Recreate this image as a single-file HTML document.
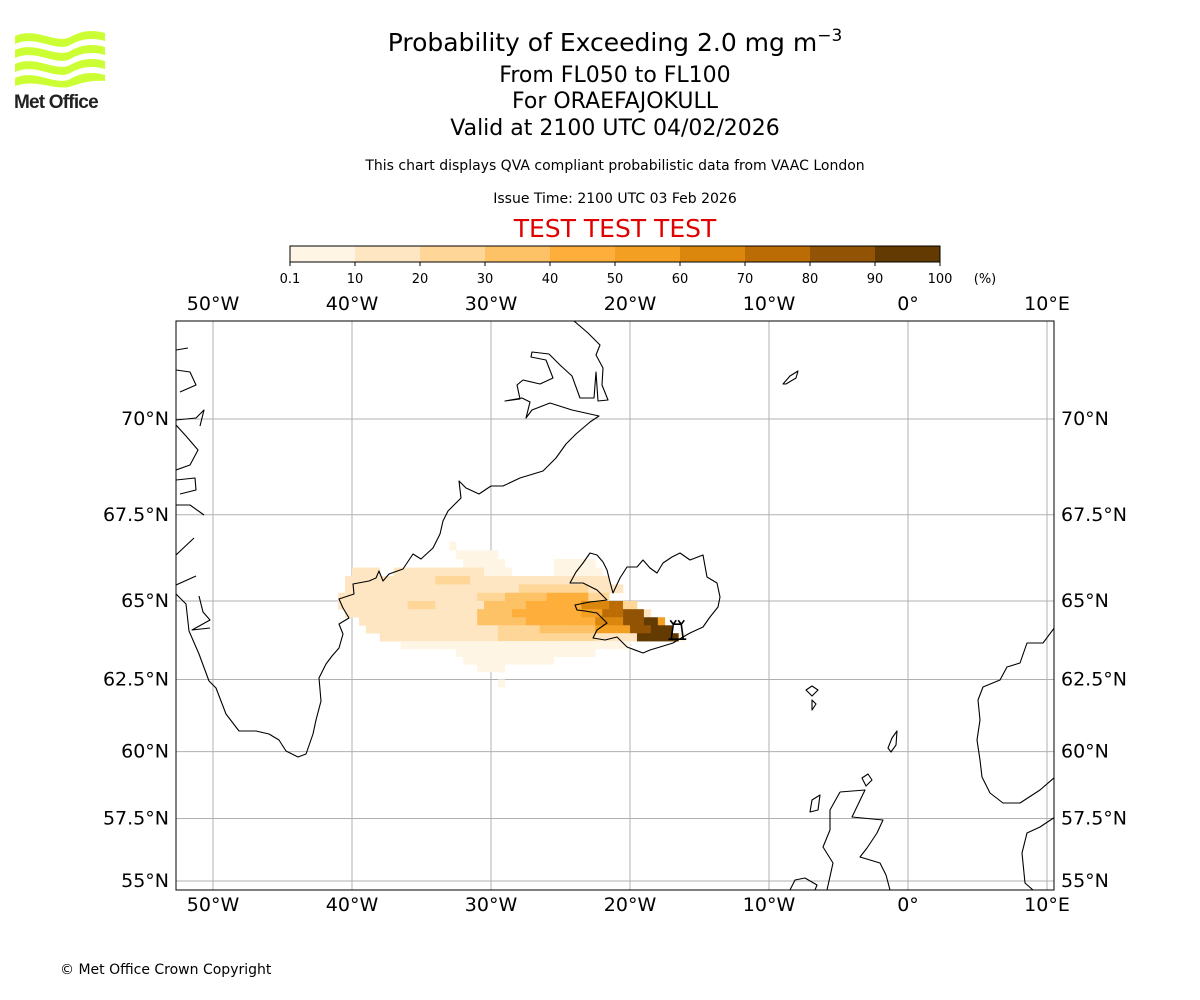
<!DOCTYPE html>
<html><head><meta charset="utf-8">
<style>
body{margin:0;background:#fff;font-family:"DejaVu Sans","Liberation Sans",sans-serif;}
#wrap{position:relative;width:1200px;height:1000px;overflow:hidden;background:#fff;}
.t{position:absolute;left:0;width:1230px;text-align:center;color:#000;white-space:nowrap;}
</style></head><body>
<div id="wrap">
<svg style="position:absolute;left:12px;top:28px" width="100" height="86">
 <g fill="#ccff33">
  <path d="M3 8 C25 -2 45 18 60 8 C72 2 82 2 93 5 L93 13 C82 10 72 10 60 16 C45 26 25 6 3 16Z"/>
  <path d="M3 22 C25 12 45 32 60 22 C72 16 82 16 93 19 L93 27 C82 24 72 24 60 30 C45 40 25 20 3 30Z"/>
  <path d="M3 36 C25 26 45 46 60 36 C72 30 82 30 93 33 L93 41 C82 38 72 38 60 44 C45 54 25 34 3 44Z"/>
  <path d="M3 50 C25 40 45 60 60 50 C72 44 82 44 93 47 L93 53 C82 52 72 54 60 58 C45 64 25 50 3 58Z"/>
 </g>
 <text x="2" y="80" font-family="Liberation Sans" font-weight="bold" font-size="19" fill="#222" letter-spacing="-0.8">Met Office</text>
</svg>
<div class="t" style="top:28px;font-size:25px">Probability of Exceeding 2.0 mg m<sup style="font-size:17px;vertical-align:10px;line-height:0">−3</sup></div>
<div class="t" style="top:63px;font-size:22px">From FL050 to FL100</div>
<div class="t" style="top:89px;font-size:22px">For ORAEFAJOKULL</div>
<div class="t" style="top:116px;font-size:22px">Valid at 2100 UTC 04/02/2026</div>
<div class="t" style="top:158px;font-size:14px">This chart displays QVA compliant probabilistic data from VAAC London</div>
<div class="t" style="top:191px;font-size:14px">Issue Time: 2100 UTC 03 Feb 2026</div>
<div class="t" style="top:214px;font-size:25px;color:#e00000">TEST TEST TEST</div>
<div style="position:absolute;left:60px;top:962px;font-size:14px">© Met Office Crown Copyright</div>
<svg id="svg" width="1200" height="1000" style="position:absolute;left:0;top:0">
 <defs><clipPath id="mc"><rect x="176" y="321" width="878" height="569"/></clipPath></defs>
 <g id="colorbar"></g>
 <g id="grid" clip-path="url(#mc)"></g>
 <g id="plume" clip-path="url(#mc)"></g>
 <g clip-path="url(#mc)" fill="none" stroke="#000" stroke-width="1.1" stroke-linejoin="round">
  <path d="M574 321 L588 333 L600 345 L596 355 L603 368 L602 385 L608 400 L598 401 L596 372 L594 398 L580 398 L572 376 L560 365 L549 354 L532 352 L531 357 L546 360 L553 378 L540 384 L523 380 L517 385 L520 399 L505 401 L522 398 L530 402 L526 418 L532 410 L550 403 L572 410 L599 416 L590 422 L576 434 L566 444 L556 458 L543 471 L520 478 L503 486 L491 486 L479 494 L466 488 L459 481 L461 498 L448 511 L443 521 L440 534 L433 548 L421 559 L413 554 L403 569 L389 574 L383 581 L379 571 L376 578 L369 581 L353 584 L354 594 L339 599 L343 608 L349 618 L339 624 L343 634 L339 648 L332 656 L326 664 L319 678 L321 701 L316 720 L313 734 L306 754 L298 757 L286 751 L279 740 L269 734 L256 731 L239 731 L226 714 L216 688 L209 681 L199 654 L189 631 L186 604 L176 594"/>
  <path d="M176 350 L188 348 M176 370 L190 372 L196 385 L180 392 M176 420 L196 418 L204 410 L200 426 M176 425 L186 436 L198 450 L190 465 L176 470 M176 480 L195 478 L196 490 L180 494 M176 505 L190 505 L204 515 M176 555 L194 538 M176 585 L196 576 M199 596 L203 612 L210 620 L192 630 L210 628"/>
  <path d="M570 583 L576 572 L583 563 L590 553 L597 555 L603 562 L607 570 L610 582 L613 593 L620 578 L627 567 L637 567 L643 560 L650 568 L657 573 L663 563 L672 557 L680 553 L690 560 L703 555 L707 577 L717 583 L720 597 L718 607 L710 617 L703 627 L690 633 L683 637 L673 643 L660 647 L650 650 L643 653 L627 647 L617 637 L605 640 L593 638 L597 630 L607 623 L597 613 L585 611 L577 610 L575 605 L590 602 L607 600 L597 590 L583 583 Z"/>
  <path d="M783 384 L790 376 L798 371 L796 378 L786 384 Z"/>
  <path d="M806 690 L812 686 L818 690 L812 696 Z M812 700 L816 704 L812 710 Z"/>
  <path d="M888 748 L892 738 L897 731 L896 745 L891 752 Z"/>
  <path d="M862 778 L868 774 L872 780 L866 786 Z"/>
  <path d="M840 792 L865 790 L852 817 L883 820 L877 833 L867 848 L860 857 L880 863 L886 875 L890 890 M827 890 L833 863 L823 847 L830 830 L830 810 L840 792 M812 800 L820 795 L818 810 L810 812 Z M790 890 L795 880 L805 878 L817 885 L815 890"/>
  <path d="M1055 627 L1043 643 L1027 643 L1020 663 L1007 667 L1000 680 L983 687 L978 700 L980 720 L977 740 L980 760 L982 777 L990 793 L1003 803 L1020 803 L1040 790 L1055 777 M1055 817 L1040 827 L1027 833 L1022 853 L1025 883 L1033 890"/>
 </g>
 <g id="volcano" fill="none" stroke="#000" stroke-width="1.6"></g>
 <rect x="176" y="321" width="878" height="569" fill="none" stroke="#000" stroke-width="1"/>
 <g id="labels" font-family="DejaVu Sans" font-size="19" fill="#000"></g>
</svg>
</div>
<script>
const binColors=["#fff5e4","#fee6c3","#fed697","#fec266","#fdae3b","#f39f21","#db870e","#bc6c05","#925304","#633a02"];
const binLabels=["0.1","10","20","30","40","50","60","70","80","90","100"];
const lonTicks=[-50,-40,-30,-20,-10,0,10];
const lonLabels=["50°W","40°W","30°W","20°W","10°W","0°","10°E"];
const latTicks=[55,57.5,60,62.5,65,67.5,70];
const latLabels=["55°N","57.5°N","60°N","62.5°N","65°N","67.5°N","70°N"];
const plumeLon0=-41, plumeDLon=0.5, plumeLat0=66.75, plumeDLat=0.25;
const plumeRows=[
"................0.................................",
".................000000...........................",
"..................000000.......000000.............",
"..1111..11111111111110000......0000000............",
".11111111111112222211111111111111111111...........",
".1111111111111111111111111222222222211111.........",
"111111111111111111112222333333444444222...........",
"1111111111222211111113333334444444466667722.......",
".11111111111111111113333344444444445557778881.....",
"...11111111111111111333333344444444446666888995...",
"....11111111111111111112222223333333355555888999..",
"......11111111111111111222222222222221111119999990",
".........000000000000000000000000000000000........",
".................00000000000000000000.............",
"..................0000000000000...................",
"....................0000..........................",
"..................................................",
".......................0.........................."
];
const volcanoLon=-16.6, volcanoLat=64.0;
const NS="http://www.w3.org/2000/svg";
const X0=908, KX=13.9, Y70=419, KY=794.9;
function merc(l){return Math.log(Math.tan(Math.PI/4+l*Math.PI/360));}
function xOf(lon){return X0+lon*KX;}
function yOf(lat){return Y70+(merc(70)-merc(lat))*KY;}
function mk(tag,attrs,parent){const e=document.createElementNS(NS,tag);for(const k in attrs)e.setAttribute(k,attrs[k]);parent.appendChild(e);return e;}
const cb=document.getElementById('colorbar');
const cbX=290,cbW=650,cbY=246,cbH=16;
binColors.forEach((c,i)=>{
 const r=mk('rect',{x:cbX+i*cbW/binColors.length,y:cbY,width:cbW/binColors.length+0.5,height:cbH,fill:c},cb);
 
 
});
const cbo=mk('rect',{x:cbX,y:cbY,width:cbW,height:cbH,fill:'none',stroke:'#000','stroke-width':1},cb);


binLabels.forEach((l,i)=>{
 const x=cbX+i*cbW/(binLabels.length-1);
 mk('line',{x1:x,x2:x,y1:cbY+cbH,y2:cbY+cbH+4,stroke:'#000'},cb);
 const t=mk('text',{x:x,y:283,'text-anchor':'middle','font-size':13,'font-family':'DejaVu Sans'},cb);
 t.textContent=l;
 
 
});
const pu=mk('text',{x:985,y:283,'text-anchor':'middle','font-size':13,'font-family':'DejaVu Sans'},cb);
pu.textContent="(%)";


const g=document.getElementById('grid');
lonTicks.forEach(l=>{const e=mk('line',{x1:xOf(l),x2:xOf(l),y1:321,y2:890,stroke:'#b0b0b0','stroke-width':1},g);
 
 });
latTicks.forEach(l=>{const e=mk('line',{x1:176,x2:1054,y1:yOf(l),y2:yOf(l),stroke:'#b0b0b0','stroke-width':1},g);
 
 });
const pg=document.getElementById('plume');
plumeRows.forEach((row,r)=>{
 const latT=plumeLat0-r*plumeDLat, latB=latT-plumeDLat;
 for(let c=0;c<row.length;c++){
  const ch=row[c]; if(ch==='.')continue;
  const lonL=plumeLon0+c*plumeDLon;
  const x1=xOf(lonL), x2=xOf(lonL+plumeDLon), y1=yOf(latT), y2=yOf(latB);
  const e=mk('rect',{x:x1,y:y1,width:x2-x1+0.3,height:y2-y1+0.3,fill:binColors[+ch]},pg);
  
  
 }
});
const vg=document.getElementById('volcano');
const vx=xOf(volcanoLon), vy=yOf(volcanoLat);
mk('path',{d:`M${vx-4} ${vy-9} L${vx-6} ${vy+6} M${vx+4} ${vy-9} L${vx+6} ${vy+6} M${vx-9} ${vy+6} L${vx+9} ${vy+6} M${vx-7} ${vy-13} L${vx-4} ${vy-9} L${vx-1} ${vy-13} M${vx+1} ${vy-13} L${vx+4} ${vy-9} L${vx+7} ${vy-13} M${vx-4} ${vy-9} L${vx+4} ${vy-9}`},vg);
const lg=document.getElementById('labels');
lonTicks.forEach((l,i)=>{
 [310,911].forEach(y=>{const t=mk('text',{x:xOf(l),y:y,'text-anchor':'middle'},lg);
  t.textContent=lonLabels[i];
  
  });
});
latTicks.forEach((l,i)=>{
 const y=yOf(l)+6;
 const a=mk('text',{x:169,y:y,'text-anchor':'end'},lg);a.textContent=latLabels[i];
 
 
 const b=mk('text',{x:1061,y:y,'text-anchor':'start'},lg);b.textContent=latLabels[i];
 
 
});
</script>
</body></html>
